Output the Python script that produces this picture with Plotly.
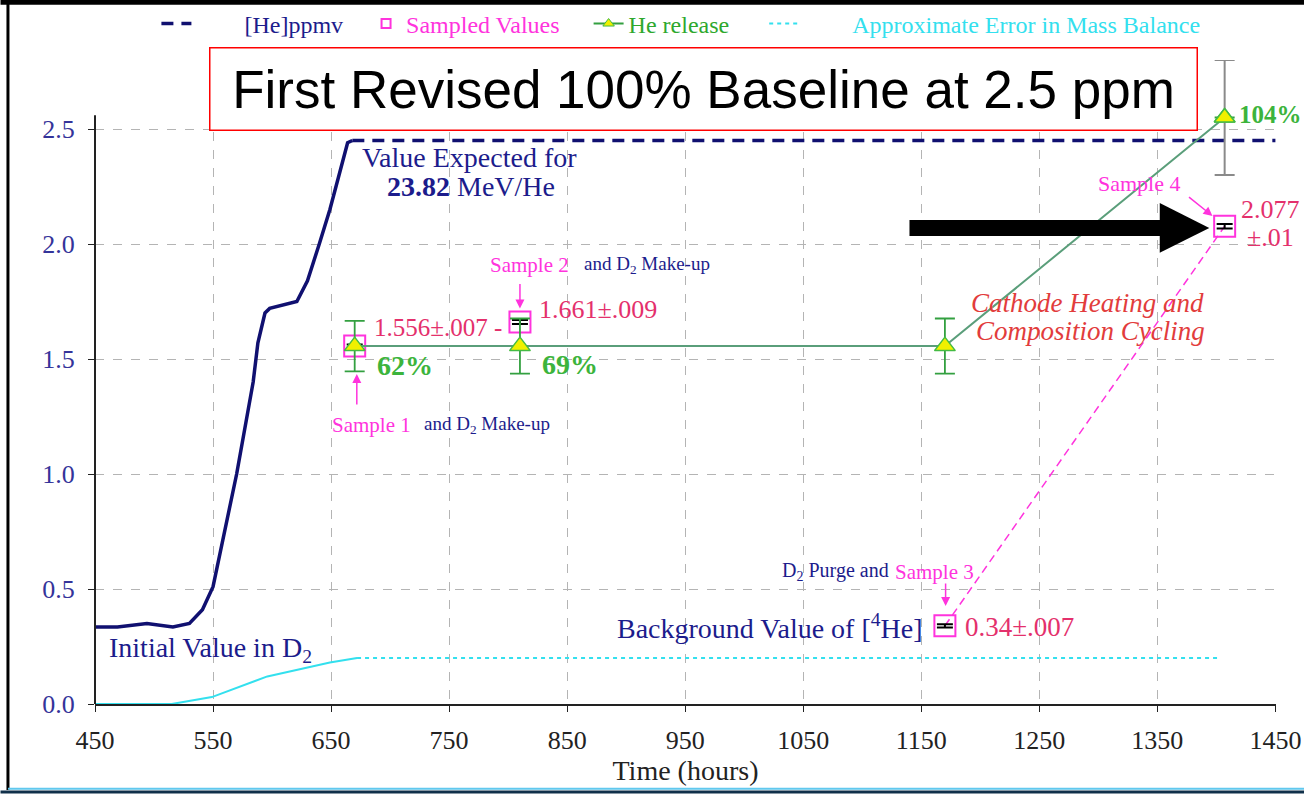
import plotly.graph_objects as go

# ---- data ----
he_time = [450, 469, 494, 516, 530, 541, 550, 558, 570, 584, 588, 594, 598, 621, 630, 640, 649, 664, 668]
he_ppmv = [0.335, 0.335, 0.35, 0.335, 0.35, 0.41, 0.51, 0.71, 1.00, 1.40, 1.57, 1.70, 1.72, 1.75, 1.84, 2.00, 2.15, 2.44, 2.45]

expected_time = [668, 1450]
expected_ppmv = [2.45, 2.45]

err_time = [450, 515, 549, 596, 649, 672]
err_val = [0.0, 0.0, 0.03, 0.12, 0.18, 0.20]
err_flat_time = [672, 1402]
err_flat_val = [0.20, 0.20]

sample_time = [670, 810, 1170, 1407]
sample_val = [1.556, 1.661, 0.34, 2.077]
sample_err = [0.007, 0.009, 0.007, 0.01]

release_time = [670, 810, 1170]
release_val = [1.556, 1.556, 1.556]
release_err = [0.11, 0.12, 0.12]
release_last_time = [1407]
release_last_val = [2.55]
release_last_err = [0.25]

x_ticks = [450, 550, 650, 750, 850, 950, 1050, 1150, 1250, 1350, 1450]
y_ticks = [0.0, 0.5, 1.0, 1.5, 2.0, 2.5]

NAVY = "#101070"
TXTBLUE = "#1c1c8c"
MAG = "#ff33dd"
CRIM = "#e4306c"
GREEN = "#3cb43c"
LINEGREEN = "#5a9e7a"
CYAN = "#33e0ee"
SERIF = "Liberation Serif"
SP = "\u00a0"

fig = go.Figure()

# approximate error (cyan)
fig.add_trace(go.Scatter(x=err_time, y=err_val, mode="lines", line=dict(color=CYAN, width=2),
                         showlegend=False, legendgroup="err"))
fig.add_trace(go.Scatter(x=err_flat_time, y=err_flat_val, mode="lines",
                         line=dict(color=CYAN, width=2, dash="4px,4px"),
                         name=SP * 8 + "<span style='color:#33e0ee'>Approximate Error in Mass Balance</span>",
                         legendgroup="err", legendrank=4))

# [He] ppmv
fig.add_trace(go.Scatter(x=he_time, y=he_ppmv, mode="lines", line=dict(color=NAVY, width=3.5),
                         showlegend=False, legendgroup="he"))
fig.add_trace(go.Scatter(x=expected_time, y=expected_ppmv, mode="lines",
                         line=dict(color=NAVY, width=3.5, dash="12px,8px"),
                         name=SP * 8 + "<span style='color:#1c1c8c'>[He]ppmv</span>" + SP * 3,
                         legendgroup="he", legendrank=1))

# sampled values
fig.add_trace(go.Scatter(x=sample_time[2:], y=sample_val[2:], mode="lines",
                         line=dict(color=MAG, width=1.5, dash="8px,5px"), showlegend=False))
fig.add_trace(go.Scatter(x=sample_time, y=sample_val, mode="markers",
                         marker=dict(symbol="square-open", size=21, color=MAG, line=dict(width=2, color=MAG)),
                         error_y=dict(type="data", array=sample_err, color="black", thickness=2, width=8),
                         showlegend=False, legendgroup="samp", cliponaxis=False))
fig.add_trace(go.Scatter(x=[None], y=[None], mode="markers",
                         marker=dict(symbol="square-open", size=9, color=MAG, line=dict(width=2, color=MAG)),
                         name="<span style='color:#ff33dd'>Sampled Values</span>" + SP * 4,
                         legendgroup="samp", legendrank=2))

# He release
fig.add_trace(go.Scatter(x=release_time + release_last_time, y=release_val + release_last_val,
                         mode="lines+markers", line=dict(color=LINEGREEN, width=2),
                         marker=dict(symbol="triangle-up", size=18, color="#f0f000",
                                     line=dict(color="#44bb44", width=1.5)),
                         error_y=dict(type="data", array=release_err + [0], color="#33a040", thickness=1.8, width=10),
                         showlegend=False, legendgroup="rel", cliponaxis=False))
fig.add_trace(go.Scatter(x=release_last_time, y=release_last_val, mode="markers",
                         marker=dict(symbol="triangle-up", size=18, color="#f0f000",
                                     line=dict(color="#44bb44", width=1.5)),
                         error_y=dict(type="data", array=release_last_err, color="#8a8a8a", thickness=2, width=10),
                         showlegend=False, legendgroup="rel", cliponaxis=False))
fig.add_trace(go.Scatter(x=[None], y=[None], mode="lines+markers", line=dict(color="#33a040", width=2),
                         marker=dict(symbol="triangle-up", size=10, color="#f0f000",
                                     line=dict(color="#44bb44", width=1)),
                         name="<span style='color:#2ea82e'>He release</span>" + SP * 5,
                         legendgroup="rel", legendrank=3))

ann = []


def txt(x, y, text, size, color, xanchor="left", bold=False, italic=False, family=SERIF):
    t = text
    if bold:
        t = "<b>" + t + "</b>"
    if italic:
        t = "<i>" + t + "</i>"
    ann.append(dict(x=x, y=y, xref="x", yref="y", text=t, showarrow=False, xanchor=xanchor, yanchor="middle",
                    font=dict(family=family, size=size, color=color)))


def arrow(x, y, ax, ay, color):
    ann.append(dict(x=x, y=y, xref="x", yref="y", ax=ax, ay=ay, text="", showarrow=True,
                    arrowhead=2, arrowsize=1.2, arrowwidth=1.5, arrowcolor=color))


txt(674.4, 2.374, "Value Expected for", 28, TXTBLUE)
txt(695.6, 2.248, "<b>23.82</b> MeV/He", 28, TXTBLUE)
txt(782.8, 1.909, "Sample 2", 21, MAG)
txt(862.4, 1.909, "and D<sub>2</sub> Make-up", 19, TXTBLUE)
arrow(810, 1.72, 0, -26, MAG)
txt(824.3, 1.717, "1.661±.009", 26, CRIM)
txt(684.5, 1.639, "1.556±.007 -", 25, CRIM)
txt(687, 1.47, "62%", 28, GREEN, bold=True)
txt(826.8, 1.478, "69%", 28, GREEN, bold=True)
arrow(671.8, 1.435, 0, 32, MAG)
txt(649, 1.213, "Sample 1", 21, MAG)
txt(726.9, 1.213, "and D<sub>2</sub> Make-up", 19, TXTBLUE)
txt(1291, 1.743, "Cathode Heating and", 27, "#e23c3c", xanchor="center", italic=True)
txt(1293, 1.622, "Composition Cycling", 27, "#e23c3c", xanchor="center", italic=True)
txt(1417.3, 2.561, "104%", 25, GREEN, bold=True)
txt(1298.4, 2.261, "Sample 4", 22, MAG)
arrow(1396.7, 2.122, -25, -20, MAG)
txt(1419.5, 2.152, "2.077", 26, CRIM)
txt(1424.6, 2.03, "±.01", 26, CRIM)
txt(1030, 0.574, "D<sub>2</sub> Purge and", 20, TXTBLUE)
txt(1125.7, 0.574, "Sample 3", 21, MAG)
arrow(1170.6, 0.426, 0, -24, MAG)
txt(890.3, 0.335, "Background Value of [<sup>4</sup>He]", 28, TXTBLUE)
txt(1185, 0.335, "0.34±.007", 27, CRIM)
txt(460.2, 0.235, "Initial Value in D<sub>2</sub>", 28, TXTBLUE)

# title box
ann.append(dict(x=965.7, y=2.674, xref="x", yref="y", text="First Revised 100% Baseline at 2.5 ppm",
                showarrow=False, xanchor="center", yanchor="middle",
                font=dict(family="Liberation Sans", size=53, color="black"),
                bgcolor="white", bordercolor="#ff0000", borderwidth=1.5, width=984, height=79))

shapes = []
# y axis line (short)
shapes.append(dict(type="line", xref="paper", yref="y", x0=0, x1=0, y0=0, y1=2.56,
                   line=dict(color="#222222", width=2)))
# big black arrow
shapes.append(dict(type="line", xref="x", yref="y", x0=1140, x1=1354, y0=2.07, y1=2.07,
                   line=dict(color="black", width=16)))
shapes.append(dict(type="path", xref="x", yref="y",
                   path="M 1352 2.178 L 1352 1.962 L 1394 2.07 Z", fillcolor="black", line=dict(width=0)))
# frame
shapes.append(dict(type="line", xref="paper", yref="paper", x0=-0.0737, x1=-0.0737, y0=-0.1335, y1=1.092,
                   line=dict(color="black", width=3)))
shapes.append(dict(type="line", xref="paper", yref="paper", x0=-0.08, x1=1.03, y0=1.0895, y1=1.0895,
                   line=dict(color="black", width=5)))
shapes.append(dict(type="line", xref="paper", yref="paper", x0=-0.08, x1=1.03, y0=-0.1365, y1=-0.1365,
                   line=dict(color="#10304a", width=3)))
shapes.append(dict(type="line", xref="paper", yref="paper", x0=-0.0737, x1=1.03, y0=-0.1315, y1=-0.1315,
                   line=dict(color="#60c8ee", width=2)))

fig.update_layout(
    width=1304, height=794,
    margin=dict(l=95, r=28, t=60, b=90, autoexpand=False),
    paper_bgcolor="white", plot_bgcolor="white",
    annotations=ann, shapes=shapes,
    showlegend=True,
    legend=dict(orientation="h", x=0.052, y=1.056, xanchor="left", yanchor="middle",
                font=dict(family=SERIF, size=24), bgcolor="rgba(0,0,0,0)", itemwidth=30,
                traceorder="normal"),
    xaxis=dict(range=[450, 1450.5], tickvals=x_ticks, ticktext=[str(v) for v in x_ticks],
               showgrid=True, gridcolor="#b4b4b4", griddash="dash", gridwidth=1,
               showline=True, linecolor="#222222", linewidth=2, zeroline=False,
               ticks="outside", ticklen=6, tickcolor="#222222", ticklabelstandoff=6,
               tickfont=dict(family=SERIF, size=26, color="#222222"),
               title=dict(text="Time (hours)", font=dict(family=SERIF, size=28, color="#222222"), standoff=6)),
    yaxis=dict(range=[0, 2.8], tickvals=y_ticks, ticktext=["0.0", "0.5", "1.0", "1.5", "2.0", "2.5"],
               showgrid=True, gridcolor="#b4b4b4", griddash="dash", gridwidth=1,
               showline=False, zeroline=False,
               ticks="outside", ticklen=6, tickcolor="#222222", ticklabelstandoff=8,
               tickfont=dict(family=SERIF, size=26, color="#34349a")),
)

fig.write_html("out.html", config={"displayModeBar": False},
               post_script="document.body.style.margin='0';")
